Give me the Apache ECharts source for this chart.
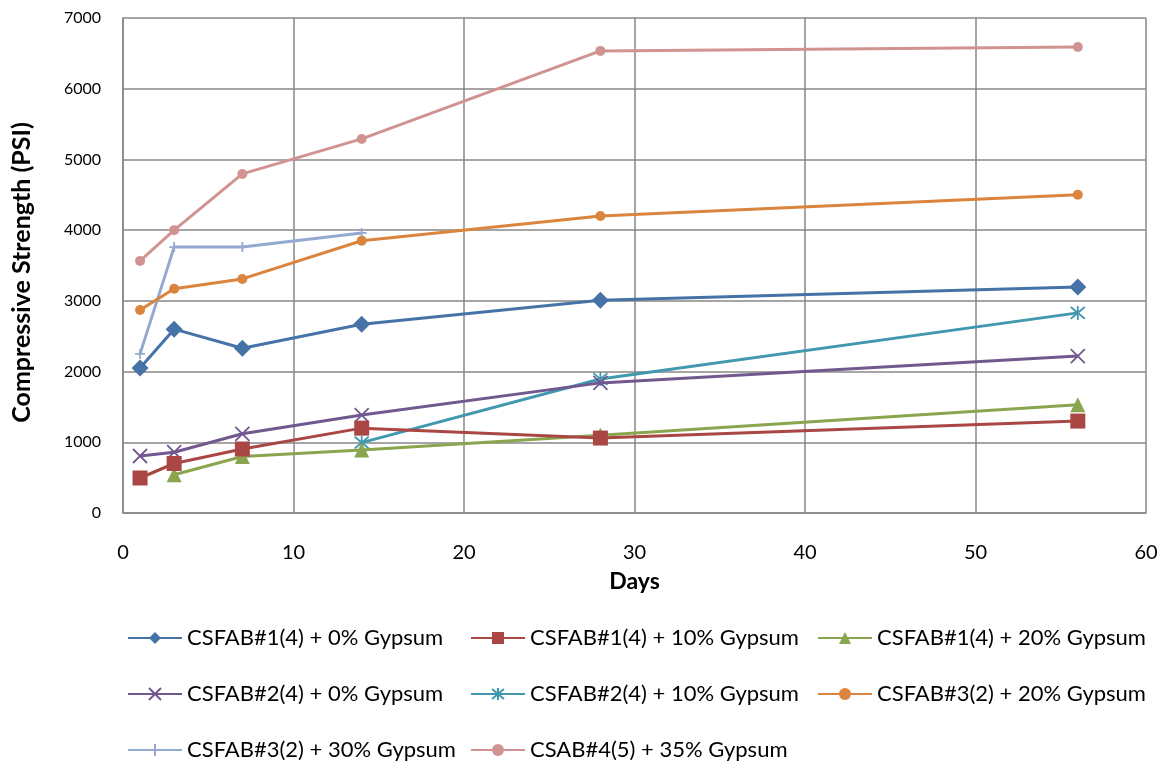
<!DOCTYPE html>
<html>
<head>
<meta charset="utf-8">
<script src="https://cdn.jsdelivr.net/npm/echarts@6/dist/echarts.min.js"></script>
<style>html,body{margin:0;padding:0;background:#fff}#c{width:1166px;height:765px}</style>
</head>
<body>
<div id="c"></div>
<script>
const seriesNames = [
  'CSFAB#1(4) + 0% Gypsum',
  'CSFAB#1(4) + 10% Gypsum',
  'CSFAB#1(4) + 20% Gypsum',
  'CSFAB#2(4) + 0% Gypsum',
  'CSFAB#2(4) + 10% Gypsum',
  'CSFAB#3(2) + 20% Gypsum',
  'CSFAB#3(2) + 30% Gypsum',
  'CSAB#4(5) + 35% Gypsum'
];
const daysS1 = [1, 3, 7, 14, 28, 56];
const valsS1 = [2050, 2600, 2330, 2670, 3010, 3195];
const daysS2 = [1, 3, 7, 14, 28, 56];
const valsS2 = [495, 700, 905, 1200, 1060, 1300];
const daysS3 = [3, 7, 14, 28, 56];
const valsS3 = [540, 800, 890, 1100, 1530];
const daysS4 = [1, 3, 7, 14, 28, 56];
const valsS4 = [806, 860, 1120, 1385, 1840, 2220];
const daysS5 = [14, 28, 56];
const valsS5 = [995, 1895, 2830];
const daysS6 = [1, 3, 7, 14, 28, 56];
const valsS6 = [2870, 3170, 3310, 3850, 4200, 4500];
const daysS7 = [1, 3, 7, 14];
const valsS7 = [2250, 3760, 3760, 3960];
const daysS8 = [1, 3, 7, 14, 28, 56];
const valsS8 = [3565, 4000, 4795, 5290, 6535, 6590];
const xTicks = [0, 10, 20, 30, 40, 50, 60];
const yTicks = [0, 1000, 2000, 3000, 4000, 5000, 6000, 7000];

const colors = ['#4572A7', '#AA4643', '#89A54E', '#71588F', '#4198AF', '#DB843D', '#93A9CF', '#D19392'];
const xPath = 'path://M0,0L10,10M10,0L0,10';
const starPath = 'path://M0,0L10,10M10,0L0,10M5,-1L5,11';
const plusPath = 'path://M5,0L5,10M0,5L10,5';
const symbols = ['diamond', 'rect', 'triangle', xPath, starPath, 'circle', plusPath, 'circle'];
const sizes = [17, 15, 15, 14, 14, 10, 10, 10];
const allDays = [daysS1, daysS2, daysS3, daysS4, daysS5, daysS6, daysS7, daysS8];
const allVals = [valsS1, valsS2, valsS3, valsS4, valsS5, valsS6, valsS7, valsS8];
const FONT = "Lato, 'Noto Sans', sans-serif";

const series = seriesNames.map((name, i) => {
  const stroked = (i === 3 || i === 4 || i === 6);
  return {
    name: name,
    type: 'line',
    data: allDays[i].map((d, j) => [d, allVals[i][j]]),
    symbol: symbols[i],
    symbolSize: sizes[i],
    showAllSymbol: true,
    lineStyle: { color: colors[i], width: 3 },
    itemStyle: stroked
      ? { color: colors[i], borderColor: colors[i], borderWidth: 1.8 }
      : { color: colors[i], borderWidth: 0 },
    emphasis: { disabled: true },
    z: 10 - i
  };
});

function legend(names, left) {
  return {
    data: names,
    orient: 'vertical',
    left: left,
    top: 627,
    padding: 0,
    itemGap: 34,
    itemWidth: 54,
    itemHeight: 15,
    textStyle: { fontFamily: FONT, fontSize: 22, color: '#000' },
    selectedMode: false
  };
}

const chart = echarts.init(document.getElementById('c'));
chart.setOption({
  animation: false,
  backgroundColor: '#fff',
  grid: { left: 123, right: 20, top: 18, bottom: 252, containLabel: false },
  xAxis: {
    type: 'value', min: 0, max: 60, interval: 10,
    name: 'Days', nameLocation: 'middle', nameGap: 57,
    nameTextStyle: { fontFamily: FONT, fontSize: 23, fontWeight: 'bold', color: '#000' },
    axisLine: { show: true, lineStyle: { color: '#878787', width: 1.5 } },
    axisTick: { show: false },
    axisLabel: { fontFamily: FONT, fontSize: 20, color: '#000', margin: 30,
      formatter: v => xTicks.includes(v) ? String(v) : '' },
    splitLine: { show: true, lineStyle: { color: '#878787', width: 1.5 } }
  },
  yAxis: {
    type: 'value', min: 0, max: 7000, interval: 1000,
    name: 'Compressive Strength (PSI)', nameLocation: 'middle', nameGap: 89,
    nameTextStyle: { fontFamily: FONT, fontSize: 25, fontWeight: 'bold', color: '#000', padding: [0, 0, 0, -14] },
    axisLine: { show: true, lineStyle: { color: '#878787', width: 1.5 } },
    axisTick: { show: false },
    axisLabel: { fontFamily: FONT, fontSize: 16, color: '#000', margin: 22,
      formatter: v => yTicks.includes(v) ? String(v) : '' },
    splitLine: { show: true, lineStyle: { color: '#878787', width: 1.5 } }
  },
  legend: [
    legend([seriesNames[0], seriesNames[3], seriesNames[6]], 127),
    legend([seriesNames[1], seriesNames[4], seriesNames[7]], 470),
    legend([seriesNames[2], seriesNames[5]], 817)
  ],
  series: series
});
</script>
</body>
</html>
